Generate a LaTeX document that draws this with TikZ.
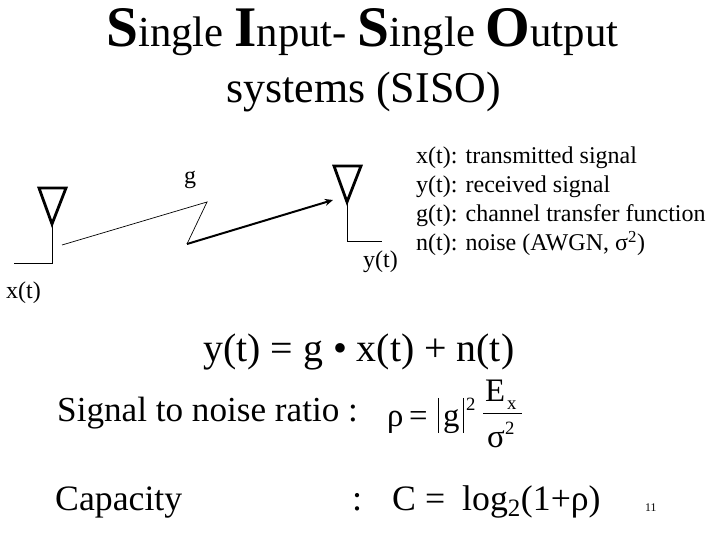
\documentclass[tikz,border=0pt]{standalone}
\usepackage{fontspec}
\setmainfont{Liberation Serif}
\usepackage{tikz}
\usetikzlibrary{arrows.meta,calc,positioning}
\newcommand{\titlecap}[1]{{\fontsize{49}{49}\selectfont\bfseries #1}}
\newcommand{\sizedfont}[1]{\fontsize{#1}{#1}\selectfont}
\tikzset{
  antennabox/.style={line width=2.4pt,line join=miter},
  feedline/.style={line width=0.8pt},
  lbl/.style={inner sep=0pt,anchor=base west},
}

\begin{document}
\begin{tikzpicture}[x=0.03cm,y=-0.03cm]
  \useasboundingbox (0,0) rectangle (720,540);
  % title
  \node[lbl,font=\sizedfont{36.5}] (title) at (106,47) {\titlecap{S}ingle \titlecap{I}nput- \titlecap{S}ingle \titlecap{O}utput};
  \node[lbl,font=\sizedfont{37.5}] (subtitle) at (226,103) {systems (SISO)};
  % transmit antenna
  \draw[antennabox] (39,188) -- (66,188) -- (52,224) -- cycle;
  \coordinate (txtip) at (52,226);
  \coordinate (txfoot) at (52,263);
  \coordinate (txend) at (14,263);
  \draw[feedline] (txtip) -- (txfoot) -- (txend);
  % receive antenna
  \draw[antennabox] (334,166) -- (361,166) -- (347,202) -- cycle;
  \coordinate (rxtip) at (347,204);
  \coordinate (rxfoot) at (347,241);
  \coordinate (rxend) at (382,241);
  \draw[feedline] (rxtip) -- (rxfoot) -- (rxend);
  % channel
  \coordinate (linkstart) at (62,245);
  \coordinate (linkup) at (207,202);
  \coordinate (linkdown) at (187,244);
  \coordinate (linkend) at (333,200);
  \draw[line width=0.6pt] (linkstart) -- (linkup) -- (linkdown);
  \draw[line width=1.7pt,-{Stealth[length=7pt,width=6pt]}] (linkdown) -- (linkend);
  \node[lbl,font=\sizedfont{20.5}] (gain) at (184,184) {g};
  \node[lbl,font=\sizedfont{20.5}] (rxlabel) at (363,268) {y(t)};
  \node[lbl,font=\sizedfont{20.5}] (txlabel) at (6,299) {x(t)};
  % legend
  \node[lbl,font=\sizedfont{20.5}] (legx) at (416,164) {x(t): transmitted signal};
  \node[lbl,font=\sizedfont{20.5}] (legy) at (416,193) {y(t): received signal};
  \node[lbl,font=\sizedfont{20.5}] (legg) at (416,222) {g(t): channel transfer function};
  \node[lbl,font=\sizedfont{20.5}] (legn) at (416,251) {n(t): noise (AWGN, σ\textsuperscript{2})};
  % equations
  \node[lbl,font=\sizedfont{34}] (model) at (203,362) {y(t) = g • x(t) + n(t)};
  \node[lbl,font=\sizedfont{30}] (snr) at (57,422) {Signal to noise ratio :};
  \node[lbl,font=\sizedfont{28}] (rho) at (387,427) {ρ\,=};
  \node[lbl,font=\sizedfont{28}] (gsym) at (443,427) {g};
  \node[lbl,font=\sizedfont{16}] (gsup) at (466,411) {2};
  \draw[line width=0.8pt] (438,398) -- (438,433) (463,398) -- (463,433);
  \node[lbl,font=\sizedfont{28}] (energy) at (485,402) {E};
  \node[lbl,font=\sizedfont{16}] (energysub) at (507,409) {x};
  \node[lbl,font=\sizedfont{28}] (sigma) at (487,447) {σ};
  \node[lbl,font=\sizedfont{16}] (sigmasup) at (505,434) {2};
  \draw[line width=0.7pt] (483,413) -- (522,413);
  \node[lbl,font=\sizedfont{30.5}] (capacity) at (55,510) {Capacity};
  \node[lbl,font=\sizedfont{31}] (colon) at (352,510) {:};
  \node[lbl,font=\sizedfont{30.5}] (capsym) at (392,510) {C =};
  \node[lbl,font=\sizedfont{30.5}] (capval) at (462,510) {log\textsubscript{2}(1+ρ)};
  \node[lbl,font=\sizedfont{10}] (page) at (645,511) {11};
\end{tikzpicture}
\end{document}
